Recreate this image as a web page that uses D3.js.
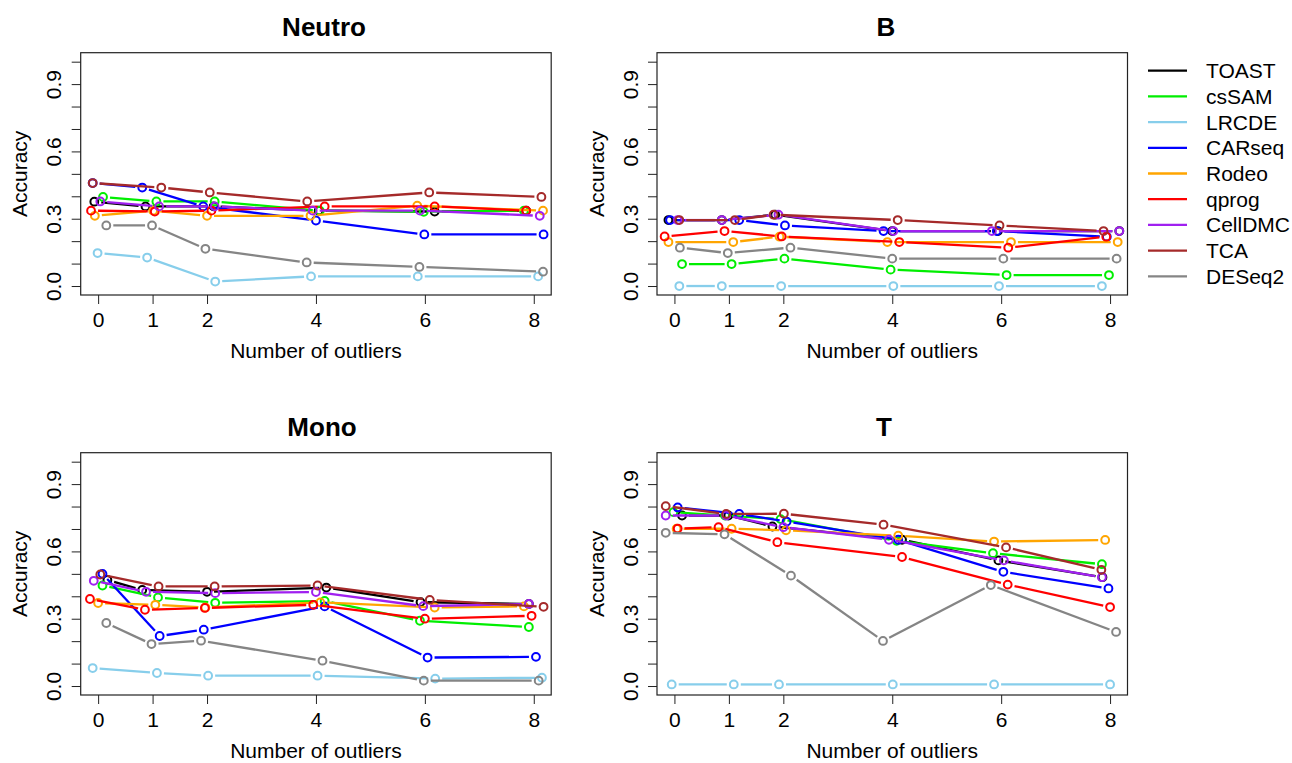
<!DOCTYPE html>
<html>
<head>
<meta charset="utf-8">
<script src="https://cdn.jsdelivr.net/npm/d3@7"></script>
<style>
  body { margin: 0; background: #fff; }
  svg { display: block; font-family: "Liberation Sans", Arial, sans-serif; }
</style>
</head>
<body>
<svg id="chart" width="1292" height="763"></svg>
<script>
// methods, in drawing / legend order
var methods = ["TOAST", "csSAM", "LRCDE", "CARseq", "Rodeo", "qprog", "CellDMC", "TCA", "DESeq2"];
var methodColors = ["#000000", "#00ee00", "#87ceeb", "#0000ff", "#ffa500", "#ff0000", "#a020f0", "#a52a2a", "#858585"];
var outlierTicks = [0, 1, 2, 4, 6, 8];
var accTicks = [0, 0.1, 0.2, 0.3, 0.4, 0.5, 0.6, 0.7, 0.8, 0.9, 1.0];
var accLabels = [0, 0.3, 0.6, 0.9];

// jittered x position of every point (number of outliers 0,1,2,4,6,8)
var neutroPos = [
  [-0.07, 0.87, 2.12, 4.05, 6.18, 7.86],
  [0.09, 1.07, 2.14, 4.07, 5.98, 7.82],
  [-0.01, 0.90, 2.15, 3.91, 5.87, 8.08],
  [-0.10, 0.81, 1.93, 4.00, 5.99, 8.18],
  [-0.06, 1.01, 2.00, 3.90, 5.86, 8.17],
  [-0.13, 1.04, 2.08, 4.16, 6.18, 7.86],
  [0.04, 1.12, 2.14, 3.94, 5.91, 8.11],
  [-0.10, 1.16, 2.05, 3.84, 6.08, 8.14],
  [0.15, 0.99, 1.97, 3.83, 5.90, 8.17]
];
var neutroAcc = [
  [0.376, 0.355, 0.355, 0.336, 0.332, 0.336],
  [0.397, 0.377, 0.377, 0.336, 0.331, 0.336],
  [0.147, 0.127, 0.020, 0.043, 0.043, 0.043],
  [0.459, 0.439, 0.355, 0.292, 0.230, 0.230],
  [0.313, 0.336, 0.313, 0.313, 0.358, 0.336],
  [0.336, 0.332, 0.336, 0.355, 0.355, 0.336],
  [0.377, 0.355, 0.355, 0.336, 0.336, 0.313],
  [0.459, 0.439, 0.417, 0.377, 0.417, 0.397],
  [0.270, 0.270, 0.166, 0.105, 0.085, 0.064]
];

var bPos = [
  [-0.11, 0.87, 1.85, 4.00, 5.94, 8.17],
  [0.14, 1.05, 2.02, 3.97, 6.10, 7.98],
  [0.09, 0.87, 1.96, 4.02, 5.96, 7.85],
  [-0.08, 1.19, 2.03, 3.84, 5.92, 7.94],
  [-0.11, 1.08, 1.93, 3.91, 6.18, 8.14],
  [-0.18, 0.92, 1.97, 4.13, 6.13, 7.93],
  [0.06, 0.87, 1.91, 4.02, 5.83, 8.17],
  [0.09, 1.11, 1.82, 4.10, 5.97, 7.88],
  [0.10, 0.98, 2.13, 4.00, 6.04, 8.12]
];
var bAcc = [
  [0.294, 0.294, 0.318, 0.245, 0.245, 0.245],
  [0.098, 0.098, 0.122, 0.073, 0.049, 0.049],
  [0, 0, 0, 0, 0, 0],
  [0.294, 0.294, 0.270, 0.245, 0.245, 0.220],
  [0.196, 0.196, 0.220, 0.196, 0.196, 0.196],
  [0.221, 0.245, 0.221, 0.196, 0.171, 0.220],
  [0.294, 0.294, 0.318, 0.245, 0.245, 0.245],
  [0.294, 0.294, 0.318, 0.294, 0.270, 0.245],
  [0.171, 0.147, 0.171, 0.122, 0.122, 0.122]
];

var monoPos = [
  [0.17, 0.81, 2.00, 4.19, 5.92, 7.91],
  [0.08, 1.10, 2.15, 4.16, 5.91, 7.91],
  [-0.10, 1.08, 2.02, 4.03, 6.19, 8.15],
  [0.08, 1.13, 1.94, 4.16, 6.05, 8.04],
  [0.00, 1.05, 1.97, 4.08, 6.18, 7.82],
  [-0.15, 0.86, 1.96, 3.95, 6.00, 7.96],
  [-0.08, 0.88, 2.15, 4.00, 5.97, 7.91],
  [0.04, 1.11, 2.14, 4.03, 6.09, 8.18],
  [0.15, 0.98, 1.89, 4.12, 5.98, 8.09]
];
var monoAcc = [
  [0.473, 0.428, 0.420, 0.439, 0.374, 0.366],
  [0.448, 0.395, 0.371, 0.379, 0.291, 0.263],
  [0.080, 0.058, 0.046, 0.046, 0.033, 0.037],
  [0.500, 0.223, 0.251, 0.355, 0.127, 0.130],
  [0.370, 0.362, 0.350, 0.373, 0.350, 0.355],
  [0.388, 0.340, 0.348, 0.362, 0.300, 0.313],
  [0.469, 0.420, 0.414, 0.419, 0.356, 0.366],
  [0.497, 0.444, 0.444, 0.448, 0.384, 0.353],
  [0.281, 0.187, 0.202, 0.113, 0.024, 0.024]
];

var tPos = [
  [0.14, 0.99, 1.80, 4.18, 5.95, 7.86],
  [-0.02, 0.93, 1.95, 4.08, 5.85, 7.85],
  [-0.05, 1.09, 1.92, 4.01, 5.87, 8.00],
  [0.06, 1.19, 2.06, 4.11, 6.04, 7.97],
  [0.04, 1.05, 2.05, 4.11, 5.87, 7.91],
  [0.06, 0.81, 1.89, 4.18, 6.12, 8.00],
  [-0.16, 0.95, 2.00, 3.94, 6.05, 7.85],
  [-0.16, 0.95, 2.01, 3.84, 6.09, 7.84],
  [-0.16, 0.92, 2.14, 3.83, 5.81, 8.11]
];
var tAcc = [
  [0.760, 0.760, 0.711, 0.652, 0.560, 0.485],
  [0.775, 0.760, 0.744, 0.647, 0.592, 0.543],
  [0.007, 0.007, 0.007, 0.007, 0.007, 0.007],
  [0.796, 0.767, 0.733, 0.652, 0.509, 0.435],
  [0.701, 0.701, 0.694, 0.670, 0.644, 0.651],
  [0.702, 0.708, 0.641, 0.575, 0.452, 0.352],
  [0.760, 0.760, 0.708, 0.652, 0.560, 0.485],
  [0.802, 0.767, 0.768, 0.719, 0.618, 0.518],
  [0.683, 0.676, 0.492, 0.201, 0.450, 0.241]
];

var panelNames = ["Neutro", "B", "Mono", "T"];
var panelPos = [neutroPos, bPos, monoPos, tPos];
var panelAcc = [neutroAcc, bAcc, monoAcc, tAcc];

// layout
var boxW = 470.5, boxH = 242.3;
var lefts = [80.7, 657, 80.7, 657];
var tops = [52.7, 52.7, 452.7, 452.7];
var titleXs = [324, 886, 322, 884];
var gap = 7;       // gap between line and point, like R type="b"
var ptR = 3.9;

var svg = d3.select("#chart");

panelNames.forEach(function(name, p) {
    var left = lefts[p], top = tops[p];
    var x = d3.scaleLinear().domain([-0.32, 8.32]).range([left, left + boxW]);
    var y = d3.scaleLinear().domain([-0.04, 1.04]).range([top + boxH, top]);
    var g = svg.append("g");

    //坐标轴
    var xAxis = g.append("g")
        .attr("transform", "translate(0," + (top + boxH) + ")")
        .call(d3.axisBottom(x).tickValues(outlierTicks).tickSize(9).tickFormat(d3.format("d")));
    xAxis.select(".domain").remove();
    xAxis.selectAll("line").attr("stroke", "#222");
    xAxis.selectAll("text")
        .attr("y", 31.5).attr("dy", null)
        .attr("fill", "#000")
        .style("font-size", "21px")
        .style("font-family", "Liberation Sans, Arial, sans-serif");

    var yAxis = g.append("g")
        .attr("transform", "translate(" + left + ",0)")
        .call(d3.axisLeft(y).tickValues(accTicks).tickSize(9)
            .tickFormat(function(d) {
                return accLabels.some(function(v) { return Math.abs(v - d) < 1e-6; }) ? d3.format(".1f")(d) : "";
            }));
    yAxis.select(".domain").remove();
    yAxis.selectAll("line").attr("stroke", "#222");
    yAxis.selectAll("text")
        .attr("transform", "rotate(-90)")
        .attr("x", 0).attr("y", -19.5).attr("dy", null)
        .attr("text-anchor", "middle")
        .attr("fill", "#000")
        .style("font-size", "21px")
        .style("font-family", "Liberation Sans, Arial, sans-serif");

    //标题
    g.append("text")
        .attr("x", titleXs[p]).attr("y", top - 16.7)
        .attr("text-anchor", "middle")
        .style("font-size", "26px").style("font-weight", "bold")
        .text(name);
    g.append("text")
        .attr("x", left + boxW / 2).attr("y", top + boxH + 63)
        .attr("text-anchor", "middle")
        .style("font-size", "21px")
        .text("Number of outliers");
    g.append("text")
        .attr("transform", "translate(" + (left - 53.5) + "," + (top + boxH / 2) + ") rotate(-90)")
        .attr("text-anchor", "middle")
        .style("font-size", "21px")
        .text("Accuracy");

    //数据线和点
    methods.forEach(function(m, i) {
        var pts = outlierTicks.map(function(o, j) {
            return { px: x(panelPos[p][i][j]), py: y(panelAcc[p][i][j]) };
        });
        var segs = [];
        for (var j = 0; j < pts.length - 1; j++) {
            var a = pts[j], b = pts[j + 1];
            var dx = b.px - a.px, dy = b.py - a.py;
            var len = Math.sqrt(dx * dx + dy * dy);
            if (len > 2 * gap) {
                segs.push({
                    x1: a.px + dx * gap / len, y1: a.py + dy * gap / len,
                    x2: b.px - dx * gap / len, y2: b.py - dy * gap / len
                });
            }
        }
        var mg = g.append("g");
        mg.selectAll("line")
            .data(segs)
            .enter().append("line")
            .attr("x1", function(d) { return d.x1; })
            .attr("y1", function(d) { return d.y1; })
            .attr("x2", function(d) { return d.x2; })
            .attr("y2", function(d) { return d.y2; })
            .attr("stroke", methodColors[i])
            .attr("stroke-width", 2.3);
        mg.selectAll("circle")
            .data(pts)
            .enter().append("circle")
            .attr("cx", function(d) { return d.px; })
            .attr("cy", function(d) { return d.py; })
            .attr("r", ptR)
            .attr("fill", "none")
            .attr("stroke", methodColors[i])
            .attr("stroke-width", 2);
    });

    //边框
    g.append("rect")
        .attr("x", left).attr("y", top)
        .attr("width", boxW).attr("height", boxH)
        .attr("fill", "none")
        .attr("stroke", "#222")
        .attr("stroke-width", 1.2);
});

//图例
var legend = svg.append("g");
var legendRows = legend.selectAll("g")
    .data(methods)
    .enter().append("g")
    .attr("transform", function(d, i) { return "translate(0," + (70.7 + 25.7 * i) + ")"; });
legendRows.append("line")
    .attr("x1", 1148).attr("x2", 1187)
    .attr("y1", 0).attr("y2", 0)
    .attr("stroke", function(d, i) { return methodColors[i]; })
    .attr("stroke-width", 2.3);
legendRows.append("text")
    .attr("x", 1206).attr("y", 7.5)
    .style("font-size", "21px")
    .text(function(d) { return d; });
</script>
</body>
</html>
